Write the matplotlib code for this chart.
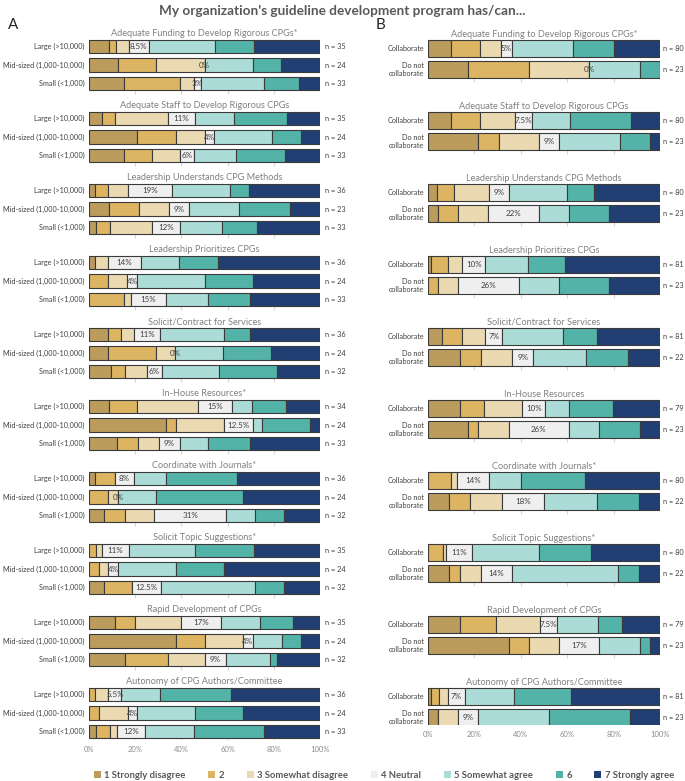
import matplotlib
matplotlib.use("Agg")
import matplotlib.pyplot as plt
from matplotlib.patches import Patch
import numpy as np

plt.rcParams["font.family"] = ["Lato", "DejaVu Sans"]

LEVELS = ["1 Strongly disagree", "2", "3 Somewhat disagree", "4 Neutral",
          "5 Somewhat agree", "6", "7 Strongly agree"]
COLORS = ["#bb9c5d", "#dcb462", "#ebdab1", "#efefef", "#acdcd7", "#54b3a8", "#223f73"]

titles_a = ["Adequate Funding to Develop Rigorous CPGs*", "Adequate Staff to Develop Rigorous CPGs",
            "Leadership Understands CPG Methods", "Leadership Prioritizes CPGs",
            "Solicit/Contract for Services", "In-House Resources*", "Coordinate with Journals*",
            "Solicit Topic Suggestions*", "Rapid Development of CPGs",
            "Autonomy of CPG Authors/Committee"]
titles_b = titles_a[:5] + ["In-House Resources"] + titles_a[6:]

size_labels = ["Large (>10,000)", "Mid-sized (1,000-10,000)", "Small (<1,000)"]
collab_labels = ["Collaborate", "Do not\ncollaborate"]

# panel A: percent per response level (1..7) for Large / Mid-sized / Small
a_funding = [[8.6, 2.9, 5.7, 8.6, 28.6, 17.1, 28.6], [12.5, 16.7, 20.8, 0, 20.8, 12.5, 16.7], [15.2, 24.2, 6.1, 3.0, 27.3, 15.2, 9.1]]
a_staff = [[5.7, 5.7, 22.9, 11.4, 17.1, 22.9, 14.3], [20.8, 16.7, 12.5, 4.2, 25.0, 12.5, 8.3], [15.2, 12.1, 12.1, 6.1, 18.2, 21.2, 15.2]]
a_understands = [[2.8, 5.6, 8.3, 19.4, 25.0, 8.3, 30.6], [8.7, 13.0, 13.0, 8.7, 21.7, 21.7, 13.0], [3.0, 6.1, 18.2, 12.1, 18.2, 15.2, 27.3]]
a_prioritizes = [[2.8, 0, 5.6, 13.9, 16.7, 16.7, 44.4], [0, 8.3, 8.3, 4.2, 29.2, 20.8, 29.2], [0, 15.2, 3.0, 15.2, 18.2, 18.2, 30.3]]
a_contract = [[8.3, 5.6, 5.6, 11.1, 27.8, 11.1, 30.6], [8.3, 20.8, 8.3, 0, 20.8, 20.8, 20.8], [9.4, 6.3, 9.4, 6.3, 25.0, 25.0, 18.8]]
a_inhouse = [[8.8, 11.8, 26.5, 14.7, 8.8, 14.7, 14.7], [33.3, 4.2, 20.8, 12.5, 4.2, 20.8, 4.2], [12.1, 9.1, 9.1, 9.1, 12.1, 18.2, 30.3]]
a_journals = [[2.8, 8.3, 0, 8.3, 13.9, 30.6, 36.1], [0, 8.3, 4.2, 0, 16.7, 37.5, 33.3], [6.3, 9.4, 12.5, 31.3, 12.5, 12.5, 15.6]]
a_topics = [[0, 2.9, 2.9, 11.4, 28.6, 25.7, 28.6], [0, 4.2, 4.2, 4.2, 25.0, 20.8, 41.7], [6.3, 12.5, 0, 12.5, 40.6, 12.5, 15.6]]
a_rapid = [[11.4, 8.6, 20.0, 17.1, 17.1, 14.3, 11.4], [37.5, 12.5, 16.7, 4.2, 12.5, 8.3, 8.3], [15.6, 18.8, 15.6, 9.4, 18.8, 3.1, 18.8]]
a_autonomy = [[0, 2.8, 5.6, 5.6, 16.7, 30.6, 38.9], [0, 4.2, 12.5, 4.2, 25.0, 20.8, 33.3], [3.0, 6.1, 3.0, 12.1, 21.2, 30.3, 24.2]]

a_n = [[35, 24, 33], [35, 24, 33], [36, 23, 33], [36, 24, 33], [36, 24, 32],
       [34, 24, 33], [36, 24, 32], [35, 24, 32], [35, 24, 32], [36, 24, 33]]
a_neutral_txt = [["8.5%", "0%", "3%"], ["11%", "4%", "6%"], ["19%", "9%", "12%"], ["14%", "4%", "15%"],
                 ["11%", "0%", "6%"], ["15%", "12.5%", "9%"], ["8%", "0%", "31%"], ["11%", "4%", "12.5%"],
                 ["17%", "4%", "9%"], ["5.5%", "4%", "12%"]]

# panel B: Collaborate / Do not collaborate
b_funding = [[10.0, 12.5, 8.8, 5.0, 26.3, 17.5, 20.0], [17.4, 26.1, 26.1, 0, 21.7, 8.7, 0]]
b_staff = [[10.0, 12.5, 15.0, 7.5, 16.3, 26.3, 12.5], [21.7, 8.7, 17.4, 8.7, 26.1, 13.0, 4.3]]
b_understands = [[3.8, 7.5, 15.0, 8.8, 25.0, 11.3, 28.8], [4.3, 8.7, 13.0, 21.7, 13.0, 17.4, 21.7]]
b_prioritizes = [[1.2, 7.4, 6.2, 9.9, 18.5, 16.0, 40.7], [0, 4.3, 8.7, 26.1, 17.4, 21.7, 21.7]]
b_contract = [[6.2, 8.6, 9.9, 7.4, 25.9, 14.8, 27.2], [13.6, 9.1, 13.6, 9.1, 22.7, 18.2, 13.6]]
b_inhouse = [[13.9, 10.1, 16.5, 10.1, 10.1, 19.0, 20.3], [17.4, 4.3, 13.0, 26.1, 13.0, 17.4, 8.7]]
b_journals = [[0, 10.0, 2.5, 13.8, 13.8, 27.5, 32.5], [9.1, 9.1, 13.6, 18.2, 22.7, 18.2, 9.1]]
b_topics = [[0, 6.3, 1.3, 11.3, 28.8, 22.5, 30.0], [9.1, 4.5, 9.1, 13.6, 45.5, 9.1, 9.1]]
b_rapid = [[13.9, 15.2, 19.0, 7.6, 17.7, 10.1, 16.5], [34.8, 8.7, 13.0, 17.4, 17.4, 4.3, 4.3]]
b_autonomy = [[1.2, 3.7, 3.7, 7.4, 21.0, 24.7, 38.3], [4.3, 0, 8.7, 8.7, 30.4, 34.8, 13.0]]

b_n = [[80, 23], [80, 23], [80, 23], [81, 23], [81, 22], [79, 23], [80, 22], [80, 22], [79, 23], [81, 23]]
b_neutral_txt = [["5%", "0%"], ["7.5%", "9%"], ["9%", "22%"], ["10%", "26%"], ["7%", "9%"],
                 ["10%", "26%"], ["14%", "18%"], ["11%", "14%"], ["7.5%", "17%"], ["7%", "9%"]]

data_a = [a_funding, a_staff, a_understands, a_prioritizes, a_contract,
          a_inhouse, a_journals, a_topics, a_rapid, a_autonomy]
data_b = [b_funding, b_staff, b_understands, b_prioritizes, b_contract,
          b_inhouse, b_journals, b_topics, b_rapid, b_autonomy]

W, H = 685, 781
fig = plt.figure(figsize=(W / 100, H / 100), dpi=100)


def px_axes(left, right, top, bottom):
    ax = fig.add_axes([left / W, 1 - bottom / H, (right - left) / W, (bottom - top) / H])
    ax.set_xlim(0, 100)
    ax.set_ylim(bottom, top)  # y in pixels, inverted
    for s in ax.spines.values():
        s.set_visible(False)
    ax.set_yticks([])
    ax.set_xticks(np.arange(0, 101, 20))
    ax.set_xticklabels([f"{v}%" for v in range(0, 101, 20)], fontsize=5.5, color="#8c8c8c")
    ax.tick_params(axis="x", length=0, pad=4)
    return ax


def draw_panel(ax, data, titles, labels, ns, ntxt, first_y, gap, bar_step, bar_h, lab_x, n_x):
    for g, rows in enumerate(data):
        y0 = first_y + gap * g
        ax.text(50, y0 - bar_h / 2 - 1.5, titles[g], ha="center", va="bottom",
                fontsize=6.6, color="#808080")
        for j, vals in enumerate(rows):
            y = y0 + bar_step * j
            left = 0
            for k, v in enumerate(vals):
                ax.barh(y, v, left=left, height=bar_h, color=COLORS[k],
                        edgecolor="#3a3a3a", linewidth=0.8)
                if k == 3:
                    ax.text(left + v / 2, y, ntxt[g][j], ha="center", va="center",
                            fontsize=5.8, color="#404040")
                left += v
            ax.text(lab_x, y, labels[j], ha="right", va="center", fontsize=5.2,
                    color="#404040", linespacing=1.2)
            ax.text(n_x, y, f"n = {ns[g][j]}", ha="left", va="center", fontsize=5.3,
                    color="#404040")
        # faint tick marks under each group
        yb = y0 + bar_step * (len(rows) - 1) + bar_h / 2
        ax.vlines(np.arange(20, 101, 20), yb, yb + 4, color="#d6d6d6", linewidth=0.8, zorder=0)


axA = px_axes(89, 320, 25, 740)
draw_panel(axA, data_a, titles_a, size_labels, a_n, a_neutral_txt,
           first_y=46.5, gap=72.0, bar_step=18.5, bar_h=13.5, lab_x=-1.8, n_x=102)

axB = px_axes(428, 660, 25, 725)
draw_panel(axB, data_b, titles_b, collab_labels, b_n, b_neutral_txt,
           first_y=48.5, gap=72.0, bar_step=20.8, bar_h=16.5, lab_x=-1.6, n_x=101.5)

fig.text(0.5, 1 - 11 / H, "My organization's guideline development program has/can...",
         ha="center", va="center", fontsize=9.8, fontweight="bold", color="#595959")
fig.text(8 / W, 1 - 25 / H, "A", ha="left", va="center", fontsize=11, color="#262626")
fig.text(376 / W, 1 - 25 / H, "B", ha="left", va="center", fontsize=11, color="#262626")

handles = [Patch(facecolor=c, edgecolor="none") for c in COLORS]
fig.legend(handles, LEVELS, loc="center", bbox_to_anchor=(384 / W, 1 - 775 / H), ncol=7,
           frameon=False, handlelength=0.75, handleheight=0.75, handletextpad=0.35,
           columnspacing=2.4, prop={"size": 6.8, "weight": "bold"}, labelcolor="#595959")

fig.savefig("out.png", dpi=100)
